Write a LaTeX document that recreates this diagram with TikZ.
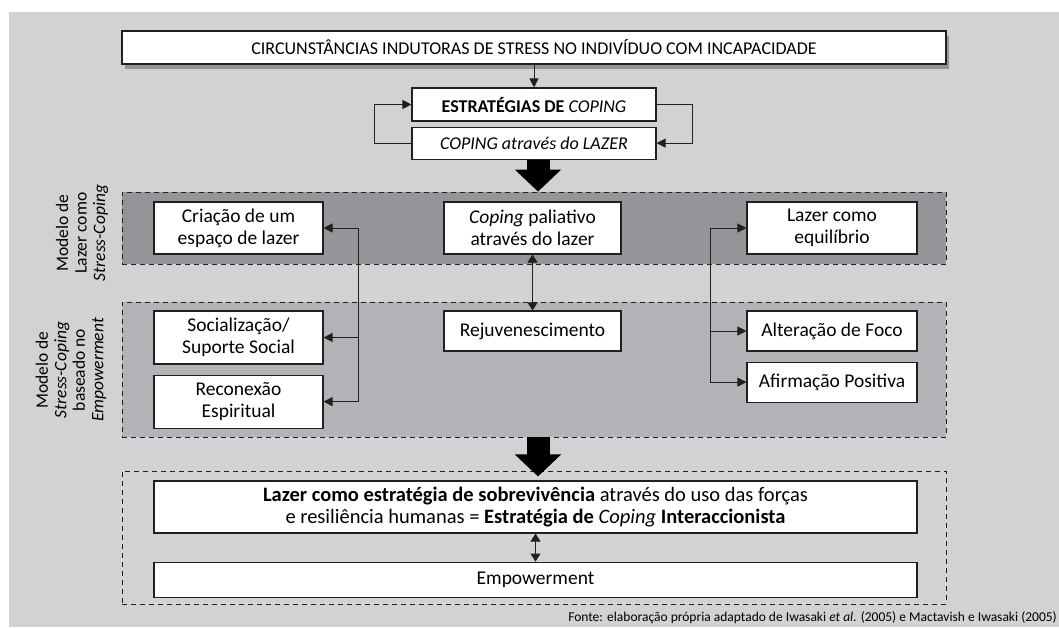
\documentclass[tikz,border=0pt]{standalone}
\usepackage{fontspec}
\setmainfont{Carlito}
\usetikzlibrary{arrows.meta, positioning, calc, shadows}
\definecolor{bggray}{HTML}{D1D2D4}
\definecolor{darkpanel}{HTML}{939598}
\definecolor{midpanel}{HTML}{B1B3B6}
\definecolor{linegray}{HTML}{231F20}

\begin{document}
\begin{tikzpicture}[
    x=1pt, y=-1pt,
    node distance=10pt,
    txt/.style={font=\fontsize{19.5}{22}\selectfont},
    box/.style={rectangle, draw=linegray, line width=1.1pt, fill=white, txt, align=center, inner sep=0pt},
    panel/.style={rectangle, draw=linegray, dash pattern=on 5pt off 4pt, line width=0.8pt, minimum width=824pt, inner sep=0pt},
    sidelabel/.style={rotate=90, align=center, font=\fontsize{17.5}{18.5}\selectfont},
    arr/.style={-{Triangle[length=9pt,width=9pt]}, line width=0.9pt, linegray},
    dblarr/.style={{Triangle[length=8pt,width=10pt]}-{Triangle[length=8pt,width=10pt]}, line width=0.9pt, linegray},
    bigarrow/.style={line width=23pt, -{Triangle[length=22pt,width=45pt]}}
]
    \useasboundingbox (0,0) rectangle (1059,627);
    \fill[bggray] (9,12) rectangle (1059,627);

    % top of the chain
    \node [box, font=\fontsize{18}{20}\selectfont, minimum width=824pt, minimum height=33pt, drop shadow={shadow xshift=3pt, shadow yshift=-5pt, fill=darkpanel, opacity=1}] (top) at (534,47.5) {CIRCUNSTÂNCIAS INDUTORAS DE STRESS NO INDIVÍDUO COM INCAPACIDADE};
    \node [box, font=\fontsize{18}{20}\selectfont, minimum width=244pt, minimum height=33pt] (estr) at (534,104.5) {\textbf{ESTRATÉGIAS DE} \textit{COPING}};
    \node [box, font=\fontsize{18}{20}\selectfont, minimum width=244pt, minimum height=32pt, below=5pt of estr] (cop) {\textit{COPING através do LAZER}};

    % panels
    \node [panel, fill=darkpanel, minimum height=72pt] (reg1) at (534,228) {};
    \node [panel, fill=midpanel, minimum height=135pt] (reg2) at (534,369.5) {};
    \node [panel, minimum height=133pt] (reg3) at (534,537.5) {};

    \node [sidelabel] (lab1) at (82,233) {Modelo de\\Lazer como\\\textit{Stress-Coping}};
    \node [sidelabel] (lab2) at (71,370) {Modelo de\\\textit{Stress-Coping}\\baseado no\\\textit{Empowerment}};

    % lazer como stress-coping
    \node [box, minimum width=169pt, minimum height=52pt] (cria) at (238.5,228) {Criação de um\\espaço de lazer};
    \node [box, minimum width=177pt, minimum height=52pt] (pali) at (532.5,228) {\textit{Coping} paliativo\\através do lazer};
    \node [box, minimum width=170pt, minimum height=52pt] (equi) at (832,228) {Lazer como\\equilíbrio};

    % empowerment
    \node [box, minimum width=169pt, minimum height=53pt] (soci) at (238.5,337.5) {Socialização/\\Suporte Social};
    \node [box, minimum width=169pt, minimum height=53pt, below=10pt of soci] (reco) {Reconexão\\Espiritual};
    \node [box, minimum width=177pt, minimum height=40pt] (reju) at (532.5,331) {Rejuvenescimento};
    \node [box, minimum width=170pt, minimum height=40pt] (alte) at (832,331) {Alteração de Foco};
    \node [box, minimum width=170pt, minimum height=40pt, below=10pt of alte] (afir) {Afirmação Positiva};

    % resultado
    \node [box, font=\fontsize{20.5}{22}\selectfont, minimum width=763pt, minimum height=52pt] (lazr) at (535.5,507) {\textbf{Lazer como estratégia de sobrevivência} através do uso das forças\\e resiliência humanas = \textbf{Estratégia de} \textit{Coping} \textbf{Interaccionista}};
    \node [box, minimum width=763pt, minimum height=35pt, below=28pt of lazr] (empw) {Empowerment};

    \node [anchor=base east, inner sep=0pt, font=\fontsize{13.5}{15}\selectfont] (fonte) at (1057,621) {Fonte: elaboração própria adaptado de Iwasaki \textit{et al.} (2005) e Mactavish e Iwasaki (2005)};

    % connectors
    \coordinate (busL) at (358,228);
    \coordinate (busR) at (710,228);

    \draw [arr] (top) -- (estr);
    \draw [arr] (cop.west) -- ++(-37,0) |- (estr.west);
    \draw [arr] (estr.east) -- ++(36,0) |- (cop.east);
    \draw [bigarrow] ($(cop.south)+(4,0)$) -- ($(reg1.north)+(4,0)$);

    \draw [line width=0.9pt, linegray] (busL |- cria.east) -- (busL |- reco.east);
    \foreach \n in {cria,soci,reco}
        \draw [arr] (busL |- \n.east) -- (\n.east);
    \draw [line width=0.9pt, linegray] (busR |- equi.west) -- (busR |- afir.west);
    \foreach \n in {equi,alte,afir}
        \draw [arr] (busR |- \n.west) -- (\n.west);
    \draw [dblarr] (pali) -- (reju);

    \draw [bigarrow] ($(reg2.south)+(4,0)$) -- ($(lazr.north)+(2.5,-4)$);
    \draw [dblarr] (lazr) -- (empw);
\end{tikzpicture}
\end{document}
